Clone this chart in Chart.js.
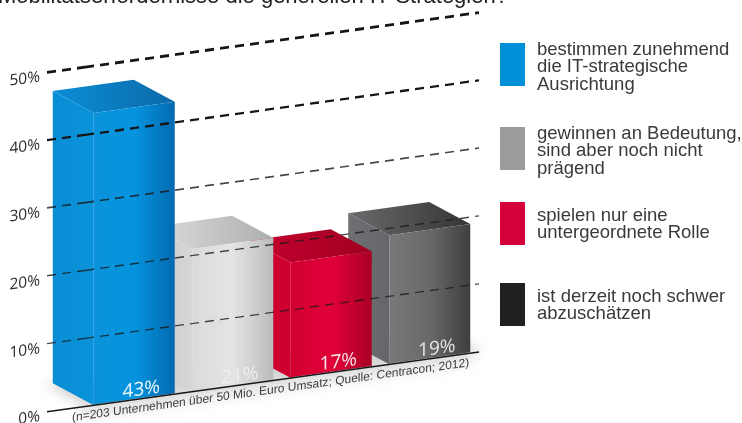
<!DOCTYPE html>
<html lang="de">
<head>
<meta charset="utf-8">
<title>IT-Strategien</title>
<script src="https://cdn.jsdelivr.net/npm/chart.js@4"></script>
<style>
    html, body { margin: 0; padding: 0; background: #fff; }
    #wrap { position: relative; width: 742px; height: 423px; overflow: hidden; font-family: "Liberation Sans", Arial, sans-serif; color: #3a3a3a; }
    #wrap canvas { position: absolute; left: 0; top: 0; }
    #headline { position: absolute; left: -2px; top: -17px; font-size: 22px; line-height: 25px; white-space: nowrap; color: #222; }
    .key { position: absolute; left: 500px; width: 25px; height: 43px; }
    .key-text { position: absolute; left: 537px; font-size: 18.5px; line-height: 17.3px; white-space: pre; }
</style>
</head>
<body>
<div id="wrap">
    <!-- canvas runs a little past the frame so the 0% line sits low enough -->
    <canvas id="chart" width="742" height="428"></canvas>
    <div id="headline">Mobilitätserfordernisse die generellen IT-Strategien?</div>
    <div id="legend"></div>
</div>
<script>
const categories = ['bestimmen zunehmend\ndie IT-strategische\nAusrichtung', 'gewinnen an Bedeutung,\nsind aber noch nicht\nprägend', 'spielen nur eine\nuntergeordnete Rolle', 'ist derzeit noch schwer\nabzuschätzen'];
const shares = [43, 21, 17, 19];
const yTicks = [0, 10, 20, 30, 40, 50];
const keyColors = ['#0090d7', '#9b9c9e', '#d5003a', '#202020'];
const footnote = '(n=203 Unternehmen über 50 Mio. Euro Umsatz; Quelle: Centracon; 2012)';

// front face gradient stops, left to right; side and top faces
const frontStops = [
    ['#0a93da', '#0594de', '#0369b0'],
    ['#dadadc', '#e4e4e6', '#b9babc'],
    ['#d0002f', '#e2003a', '#a80024'],
    ['#77797b', '#68696b', '#3d3e40']
];
const sideStops = [['#0a8dd4', '#0a93da'], ['#c8c8ca', '#d6d6d8'], ['#c8002f', '#d0002f'], ['#6e7072', '#64666a']];
const topStops = [['#0a8ed6', '#0b69a8'], ['#dcdcde', '#aeafb1'], ['#c60030', '#a00020'], ['#6a6b6d', '#343436']];
const labelColors = ['#f4f9fd', '#efeff0', '#f8e8ec', '#e6e6e6'];

const shearK = 0.1385;  // rise of the floor per pixel
const shearX = 47;
const depthX = -41;
const depthY = -27.7;   // before shear, lands at about -22 on screen

function linear(ctx, x0, x1, stops) {
    const g = ctx.createLinearGradient(x0, 0, x1, 0);
    stops.forEach((c, i) => g.addColorStop(i / (stops.length - 1), c));
    return g;
}

const shearPlugin = {
    id: 'shear',
    beforeDraw(chart) {
        const ctx = chart.ctx;
        ctx.save();
        ctx.transform(1, -shearK, 0, 1, 0, shearK * shearX);
    },
    afterDraw(chart) {
        chart.ctx.restore();
    }
};

// side and top faces, right bar first so left bars cover them
const boxPlugin = {
    id: 'box',
    beforeDatasetsDraw(chart) {
        const ctx = chart.ctx;
        const bars = chart.getDatasetMeta(0).data;
        const base = chart.scales.y.getPixelForValue(0);
        const last = bars[bars.length - 1];

        // soft shade on the floor and under the base line
        ctx.save();
        ctx.filter = 'blur(6px)';
        ctx.fillStyle = 'rgba(110,110,110,0.32)';
        bars.forEach(b => {
            const left = b.x - b.width / 2;
            const right = b.x + b.width / 2;
            ctx.beginPath();
            ctx.moveTo(left - 6, base);
            ctx.lineTo(right + 12, base);
            ctx.lineTo(right + depthX + 12, base + depthY);
            ctx.lineTo(left + depthX - 8, base + depthY);
            ctx.closePath();
            ctx.fill();
        });
        ctx.fillStyle = 'rgba(110,110,110,0.16)';
        ctx.fillRect(80, base, last.x + last.width / 2 - 80, 12);
        ctx.restore();

        for (let i = bars.length - 1; i >= 0; i--) {
            const b = bars[i];
            const left = b.x - b.width / 2;
            const right = b.x + b.width / 2;

            ctx.fillStyle = linear(ctx, left + depthX, left, sideStops[i]);
            ctx.beginPath();
            ctx.moveTo(left, b.y);
            ctx.lineTo(left, base);
            ctx.lineTo(left + depthX, base + depthY);
            ctx.lineTo(left + depthX, b.y + depthY);
            ctx.closePath();
            ctx.fill();

            ctx.fillStyle = linear(ctx, left + depthX, right, topStops[i]);
            ctx.beginPath();
            ctx.moveTo(left, b.y);
            ctx.lineTo(right, b.y);
            ctx.lineTo(right + depthX, b.y + depthY);
            ctx.lineTo(left + depthX, b.y + depthY);
            ctx.closePath();
            ctx.fill();
        }
    },
    afterDraw(chart) {
        const ctx = chart.ctx;
        const bars = chart.getDatasetMeta(0).data;
        const base = chart.scales.y.getPixelForValue(0);
        ctx.textAlign = 'center';
        ctx.textBaseline = 'middle';
        ctx.font = '19px "Open Sans", sans-serif';
        bars.forEach((b, i) => {
            ctx.fillStyle = labelColors[i];
            ctx.fillText(shares[i] + '%', b.x + 7, base - 9);
        });
        ctx.font = '12px "Liberation Sans", Arial, sans-serif';
        ctx.fillStyle = '#3c3c3c';
        ctx.textAlign = 'left';
        ctx.textBaseline = 'alphabetic';
        ctx.fillText(footnote, 72, base + 13);
    }
};

// legend beside the chart
const legendEl = document.getElementById('legend');
const keyTops = [43, 127, 202, 283];
const textTops = [40, 124, 206, 287];
categories.forEach((label, i) => {
    const key = document.createElement('div');
    key.className = 'key';
    key.style.top = keyTops[i] + 'px';
    key.style.background = keyColors[i];
    const text = document.createElement('div');
    text.className = 'key-text';
    text.style.top = textTops[i] + 'px';
    text.textContent = label;
    legendEl.appendChild(key);
    legendEl.appendChild(text);
});

new Chart(document.getElementById('chart'), {
    type: 'bar',
    data: {
        labels: categories,
        datasets: [{
            data: shares,
            barPercentage: 0.822,
            categoryPercentage: 1,
            clip: false,
            backgroundColor(c) {
                const area = c.chart.chartArea;
                if (!area) return keyColors[c.dataIndex];
                const mid = c.chart.scales.x.getPixelForValue(c.dataIndex);
                return linear(c.chart.ctx, mid - 41, mid + 41, frontStops[c.dataIndex]);
            }
        }]
    },
    options: {
        responsive: false,
        animation: false,
        layout: { autoPadding: false, padding: { left: 0, top: 72, right: 263, bottom: 0 } },
        plugins: { legend: { display: false }, tooltip: { enabled: false } },
        scales: {
            x: {
                ticks: { display: false },
                grid: { display: false },
                border: { display: false },
                afterFit(scale) { scale.height = 11; }
            },
            y: {
                min: 0,
                max: 50,
                afterBuildTicks(scale) { scale.ticks = yTicks.map(v => ({ value: v })); },
                afterFit(scale) { scale.width = 85; },
                border: {
                    display: false,
                    dash: c => (c.tick.value === 0 ? [] : [9, 6])
                },
                grid: {
                    z: 1,
                    tickLength: 38,
                    color: c => (c.tick.value >= 40 || c.tick.value === 0 ? '#161616' : 'rgba(25,25,25,0.8)'),
                    lineWidth: c => ({ 0: 1.6, 10: 1.3, 20: 1.4, 30: 1.7, 40: 2.3, 50: 2.8 }[c.tick.value]),
                    tickBorderDash: c => (c.tick.value === 0 ? [] : [9, 6])
                },
                ticks: {
                    padding: 7,
                    labelOffset: 4,
                    color: '#2c2c2c',
                    font: { family: '"Open Sans", sans-serif', size: 15.5 },
                    callback: v => v + '%'
                }
            }
        }
    },
    plugins: [boxPlugin, shearPlugin]
});
</script>
</body>
</html>
